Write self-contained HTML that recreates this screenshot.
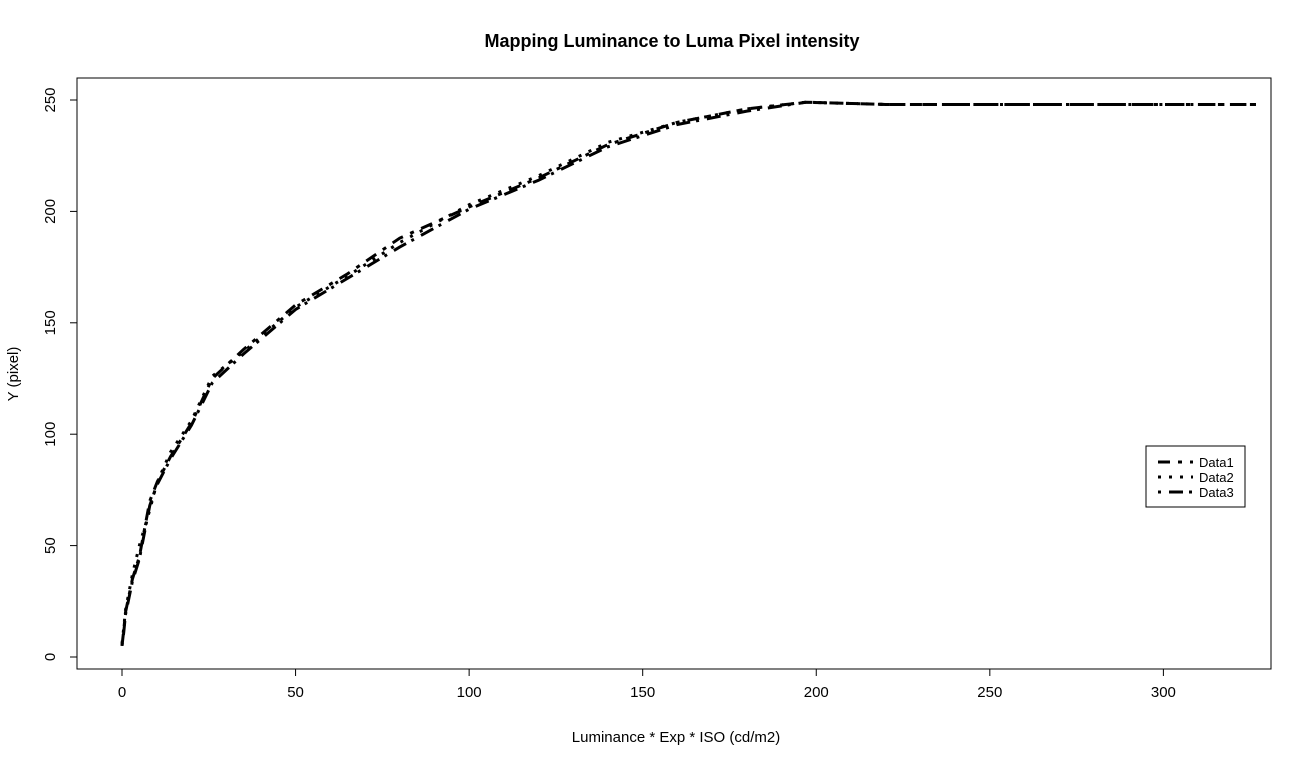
<!DOCTYPE html>
<html><head><meta charset="utf-8"><style>
body{margin:0;background:#fff;}
svg{display:block;font-family:"Liberation Sans",Arial,sans-serif;}
</style></head><body>
<svg id="chart" width="1312" height="766">
<text x="672" y="47" text-anchor="middle" font-weight="bold" font-size="18">Mapping Luminance to Luma Pixel intensity</text>
<rect x="77" y="78" width="1194" height="591" fill="none" stroke="#000"/>
<text x="676" y="742" text-anchor="middle" font-size="15">Luminance * Exp * ISO (cd/m2)</text>
<text transform="translate(18,374) rotate(-90)" text-anchor="middle" font-size="15">Y (pixel)</text>
<g id="axes"></g>
<g id="series"></g>
<g>
<rect x="1146" y="446" width="99" height="61" fill="#fff" stroke="#000"/>
<line x1="1158" y1="462" x2="1193" y2="462" stroke="#000" stroke-width="3" stroke-dasharray="12,8,4,8"/>
<line x1="1158" y1="477" x2="1193" y2="477" stroke="#000" stroke-width="3" stroke-dasharray="3,8"/>
<line x1="1158" y1="492" x2="1193" y2="492" stroke="#000" stroke-width="3" stroke-dasharray="3,8,14,6"/>
<text x="1199" y="467" font-size="13">Data1</text>
<text x="1199" y="482" font-size="13">Data2</text>
<text x="1199" y="497" font-size="13">Data3</text>
</g>
</svg>
<script>
const xTicks=[0,50,100,150,200,250,300];
const yTicks=[0,50,100,150,200,250];
const data1X=[0,0.5,1,3,5,8,10,14,20,26,35,50,65,80,100,120,140,160,180,197,220,260,300,328];
const data1Y=[5,12,20,35,45,70,78,90,105,125,138,158,172,188,202,215,230,240,246,249,248,248,248,248];
const data2X=[0,0.5,1,3,5,8,10,14,20,26,35,50,65,80,100,120,140,160,180,197,220,260,300,328];
const data2Y=[6,13,21,37,50,66,78,92,106,126,137,157,171,186,203,216,231,240,246,249,248,248,248,248];
const data3X=[0,0.5,1,3,5,8,10,14,20,26,35,50,65,80,100,120,140,160,180,197,220,260,300,328];
const data3Y=[5,11,19,34,44,68,77,89,104,123,136,156,170,184,201,214,229,239,245,249,248,248,248,248];
const sx=v=>122+v*3.4713, sy=v=>657-v*2.228;
const NS='http://www.w3.org/2000/svg';
const ax=document.getElementById('axes');
function mk(t,a,p){const e=document.createElementNS(NS,t);for(const k in a)e.setAttribute(k,a[k]);p.appendChild(e);return e;}
mk('line',{x1:sx(0),x2:sx(300),y1:669,y2:669,stroke:'#000'},ax);
mk('line',{x1:77,x2:77,y1:sy(0),y2:sy(250),stroke:'#000'},ax);
xTicks.forEach(v=>{
 const l=mk('line',{x1:sx(v),x2:sx(v),y1:669,y2:676,stroke:'#000'},ax);
 
 
 const t=mk('text',{x:sx(v),y:697,'text-anchor':'middle','font-size':15},ax);t.textContent=v;
 
 
});
yTicks.forEach(v=>{
 const l=mk('line',{x1:70,x2:77,y1:sy(v),y2:sy(v),stroke:'#000'},ax);
 
 
 const t=mk('text',{transform:`translate(55,${sy(v)}) rotate(-90)`,'text-anchor':'middle','font-size':15},ax);t.textContent=v;
 
 
});
const sg=document.getElementById('series');
[[data1X,data1Y,'12,8,4,8','series-data1'],[data2X,data2Y,'3,8','series-data2'],[data3X,data3Y,'3,8,14,6','series-data3']].forEach(([xs,ys,d,n])=>{
 const p=mk('polyline',{points:xs.map((x,i)=>sx(x)+','+sy(ys[i])).join(' '),fill:'none',stroke:'#000','stroke-width':3,'stroke-dasharray':d},sg);
 
 
});
</script>
</body></html>
